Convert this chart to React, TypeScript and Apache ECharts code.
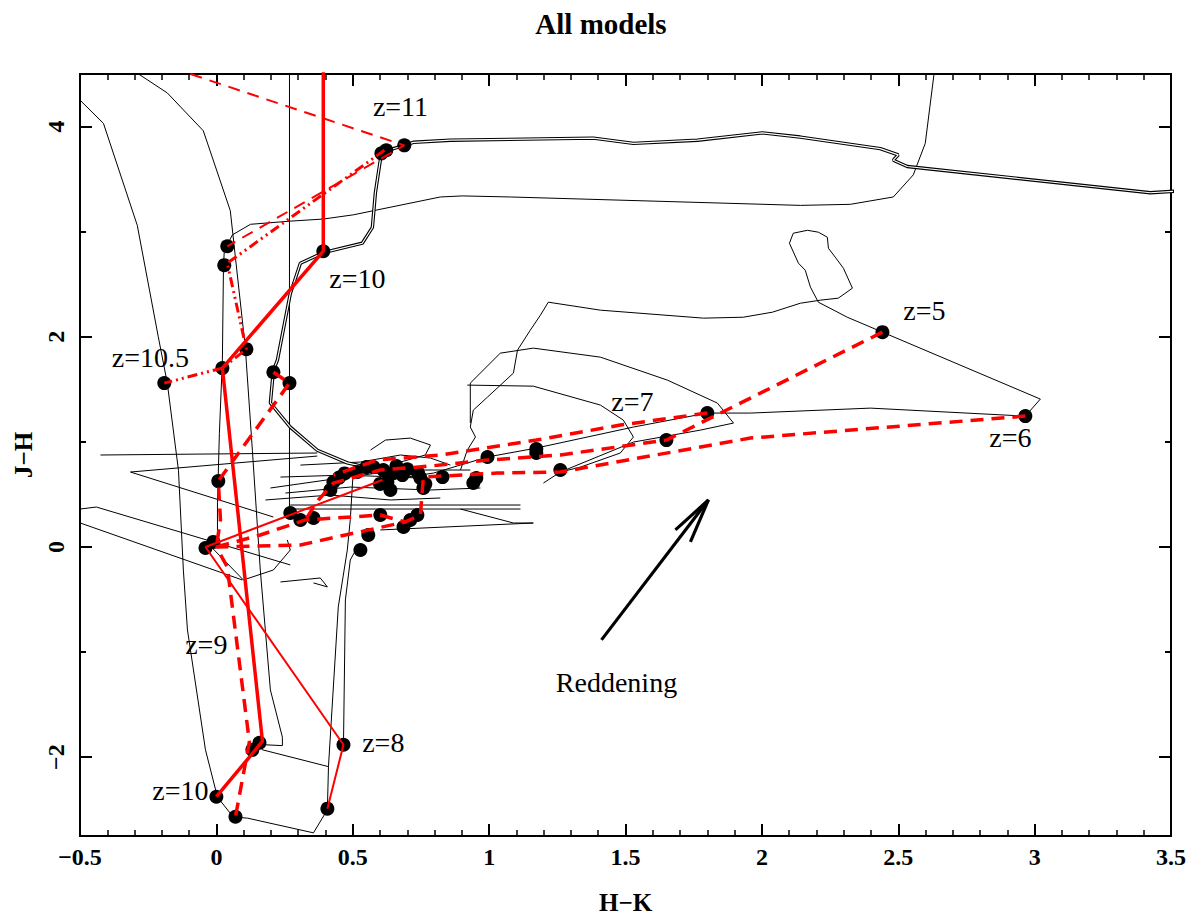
import React, { useEffect, useRef } from "react";
import * as echarts from "echarts";

// ---------- axis ----------
const xMin = -0.5, xMax = 3.5, xStep = 0.5;
const yMin = -2.75, yMax = 4.5;
const yMajor = [-2, 0, 2, 4];
const yMinor = [-1, 1, 3];

// ---------- black evolutionary tracks (H-K, J-H) ----------
const trackLeftOuter = [[-0.499,4.249],[-0.414,4.03],[-0.290,3.06],[-0.213,2.00],[-0.180,1.56],[-0.139,0.73],[-0.121,-0.22],[-0.106,-0.79],[-0.040,-1.93],[0.004,-2.38],[0.062,-2.57],[0.114,-2.58],[0.356,-2.72],[0.407,-2.50],[0.411,-2.09],[0.447,-0.57],[0.480,-0.03],[0.491,0.26],[0.502,0.73]];
const trackLeftInner = [[-0.297,4.52],[-0.180,4.32],[-0.048,3.96],[0.051,3.20],[0.106,1.90],[0.132,0.92],[0.161,-0.22],[0.198,-1.36],[0.242,-1.81],[0.242,-1.89],[0.161,-1.88],[0.169,-1.93],[0.411,-2.09]];
const trackVertical = [[0.268,4.6],[0.268,0.30]];
const trackUpperDouble = [[3.55,3.39],[3.424,3.37],[2.533,3.62],[2.482,3.68],[2.500,3.73],[2.434,3.79],[2.141,3.90],[2.002,3.94],[1.764,3.87],[1.529,3.84],[1.382,3.89],[0.858,3.87],[0.722,3.85],[0.689,3.82],[0.623,3.77],[0.601,3.68],[0.583,3.37],[0.572,3.04],[0.535,2.89],[0.392,2.80],[0.308,2.70],[0.271,2.41],[0.224,1.78],[0.209,1.68],[0.198,1.37],[0.271,1.14],[0.370,0.92],[0.480,0.80],[0.601,0.73]];
const trackUpperSingle = [[2.636,4.6],[2.599,3.84],[2.555,3.54],[2.482,3.33],[2.324,3.26],[2.141,3.25],[1.078,3.33],[0.902,3.34],[0.821,3.33],[0.502,3.16],[0.392,3.12],[0.271,3.10],[0.125,3.07],[0.059,2.97],[0.029,2.82],[0.026,2.66],[0.022,1.78],[0.011,1.08],[0.004,0.42],[0.004,0.10]];
const trackZ5 = [[1.217,2.329],[1.408,2.253],[1.786,2.177],[1.932,2.186],[2.039,2.234],[2.141,2.319],[2.214,2.348],[2.280,2.367],[2.332,2.462],[2.299,2.652],[2.269,2.757],[2.244,2.842],[2.240,2.947],[2.207,2.995],[2.167,3.013],[2.115,2.985],[2.101,2.890],[2.134,2.700],[2.159,2.633],[2.178,2.472],[2.207,2.329],[2.313,2.186],[2.442,2.044],[3.021,1.407],[2.966,1.245],[2.398,1.321],[1.958,1.274],[1.800,1.274],[1.529,1.141],[1.173,0.941],[0.994,0.856],[0.796,0.703],[0.675,0.656]];
const trackWiggle = [[1.217,2.329],[1.188,2.205],[1.151,2.063],[1.104,1.873],[1.089,1.654],[0.994,1.426],[0.942,1.302],[0.931,1.141],[0.950,1.046],[0.920,0.922],[0.895,0.732]];
const loopOuter = [[0.931,1.179],[0.931,1.559],[1.041,1.844],[1.162,1.892],[1.408,1.806],[1.654,1.587],[1.837,1.369],[1.896,1.179],[1.775,1.112],[1.529,0.998],[1.261,0.713],[1.199,0.608]];
const loopInner = [[0.920,1.540],[1.162,1.530],[1.408,1.350],[1.492,1.207],[1.529,1.046],[1.481,0.894],[1.335,0.760],[1.261,0.713]];
const clusterLines = [
  [[-0.425,0.875],[0.370,0.894]],
  [[-0.315,0.713],[0.370,0.865]],
  [[-0.315,0.713],[0.209,0.285]],
  [[-0.499,0.361],[-0.440,0.380],[0.271,-0.171]],
  [[-0.499,0.228],[0.095,-0.314]],
  [[-0.033,0.038],[0.099,-0.314],[0.209,-0.219],[0.271,-0.029],[0.260,0.067]],
  [[0.235,-0.333],[0.381,-0.295],[0.407,-0.380],[0.356,-0.342]],
  [[0.198,0.561],[0.455,0.656],[0.675,0.732],[0.931,0.732]],
  [[0.235,0.665],[0.473,0.684],[0.748,0.656]],
  [[0.253,0.513],[0.491,0.570],[0.785,0.542],[0.968,0.561]],
  [[0.308,0.779],[0.528,0.808],[0.675,0.875],[0.785,0.846],[0.858,0.779]],
  [[0.180,0.447],[0.418,0.494],[0.638,0.447],[0.821,0.466]],
  [[0.565,0.922],[0.620,1.017],[0.711,1.036],[0.785,0.970],[0.766,0.875],[0.675,0.808]],
  [[0.271,0.399],[1.115,0.399]],
  [[0.271,0.361],[1.115,0.361]],
  [[0.895,0.361],[1.089,0.228],[1.162,0.228]],
  [[0.601,0.162],[1.162,0.228]],
  [[0.466,-1.882],[0.473,-0.504],[0.491,-0.124],[0.521,0.019]],
];

// ---------- red model sequences ----------
const modelSolidThick = [[0.392,4.7],[0.392,2.814],[0.022,1.702],[0.169,-1.85],[0.0,-2.376]];
const modelSolidThin = [[0.609,0.637],[-0.040,0.0],[0.466,-1.882],[0.407,-2.490]];
const modelDashedZ6 = [[2.966,1.245],[1.958,1.036],[1.261,0.713],[1.030,0.703],[0.759,0.665],[0.748,0.304],[0.693,0.238],[0.473,0.114],[0.308,0.019],[0.0,0.0],[0.040,-0.190],[0.121,-1.854],[0.070,-2.567]];
const modelDashedZ5 = [[2.442,2.044],[1.650,1.017],[1.261,0.875],[0.994,0.827],[0.785,0.770],[0.601,0.732],[0.429,0.608],[0.374,0.447],[0.326,0.257]];
const modelDashedZ7 = [[1.800,1.274],[1.481,1.160],[1.173,1.017],[0.821,0.875],[0.590,0.827],[0.429,0.684]];
const modelDashedLoop = [[0.0,0.0],[0.161,0.114],[0.326,0.257],[0.601,0.304],[0.693,0.238]];
const modelDashedUp = [[0.209,1.663],[0.268,1.559],[0.007,0.627],[0.015,0.257],[0.0,0.0]];
const modelDashDot = [[0.616,3.774],[0.040,2.700],[0.110,1.882],[0.022,1.702],[-0.191,1.559]];
const modelDashedThin = [[-0.095,4.5],[0.689,3.821],[0.040,2.861]];

// ---------- black dots ----------
const dots = [[0.689,3.821],[0.623,3.774],[0.605,3.745],[0.040,2.861],[0.029,2.681],[0.392,2.814],[0.110,1.882],[-0.191,1.559],[0.022,1.702],[0.209,1.663],[0.268,1.559],[0.007,0.627],[2.442,2.044],[2.966,1.245],[1.800,1.274],[1.650,1.017],[1.261,0.732],[1.173,0.932],[1.173,0.894],[0.994,0.856],[0.942,0.608],[0.953,0.656],[0.829,0.665],[0.748,0.656],[0.766,0.599],[0.759,0.561],[0.517,0.713],[0.576,0.760],[0.612,0.732],[0.649,0.703],[0.682,0.684],[0.627,0.618],[0.638,0.542],[0.429,0.618],[0.418,0.542],[0.45,0.66],[0.47,0.70],[0.55,0.76],[0.66,0.77],[0.70,0.74],[0.60,0.60],[0.74,0.70],[0.601,0.304],[0.711,0.257],[0.737,0.304],[0.686,0.190],[0.557,0.114],[0.528,-0.029],[0.271,0.323],[0.308,0.257],[0.356,0.276],[-0.040,-0.010],[-0.011,0.048],[0.132,-1.930],[0.158,-1.863],[0.466,-1.882],[0.407,-2.490],[0.0,-2.376],[0.070,-2.567]];

// ---------- reddening arrow ----------
const arrowShaft = [[1.412,-0.884],[1.804,0.447]];
const arrowHead = [[1.683,0.162],[1.804,0.447],[1.738,0.048]];

// ---------- annotations ----------
const noteText = ["z=11","z=10","z=10.5","z=5","z=6","z=7","z=9","z=8","z=10","Reddening"];
const noteX = [0.675,0.517,-0.242,2.596,2.911,1.525,-0.037,0.612,-0.132,1.467];
const noteY = [4.19,2.55,1.80,2.25,1.04,1.38,-0.93,-1.86,-2.32,-1.29];

const AXFONT = "Liberation Serif";
const TXFONT = "Liberation Serif";
const RED = "#ff0000";

const minus = (v: number) => String(v).replace("-", "\u2212");

function track(data: number[][], width = 1, color = "#000", z = 2) {
  return { type: "line", data, symbol: "none", silent: true, z, lineStyle: { color, width, opacity: 1 }, clip: true };
}
function red(data: number[][], width: number, type: any) {
  return { type: "line", data, symbol: "none", silent: true, z: 6, lineStyle: { color: RED, width, type, cap: "butt", opacity: 1 }, clip: true };
}

function xAxis(pos: string, labels: boolean) {
  return {
    type: "value", min: xMin, max: xMax, interval: xStep, position: pos,
    axisLine: { show: true, onZero: false, lineStyle: { color: "#000", width: 2 } },
    axisTick: { show: true, inside: true, length: 12, lineStyle: { color: "#000", width: 2 } },
    minorTick: { show: true, splitNumber: 5, length: 6, lineStyle: { color: "#000", width: 1.5 } },
    axisLabel: { show: labels, margin: 9, color: "#000", fontFamily: AXFONT, fontWeight: "bold", fontSize: 24, formatter: minus },
    splitLine: { show: false }, minorSplitLine: { show: false },
    name: labels ? "H\u2212K" : "", nameLocation: "middle", nameGap: 54,
    nameTextStyle: { color: "#000", fontFamily: AXFONT, fontWeight: "bold", fontSize: 25 },
  };
}
function yAxis(pos: string, values: number[], len: number, labels: boolean) {
  return {
    type: "value", min: yMin, max: yMax, position: pos,
    axisLine: { show: true, onZero: false, lineStyle: { color: "#000", width: 2 } },
    axisTick: { show: true, inside: true, length: len, customValues: values, lineStyle: { color: "#000", width: 2 } },
    axisLabel: { show: labels, customValues: values, rotate: 90, margin: 12, color: "#000", fontFamily: AXFONT, fontWeight: "bold", fontSize: 24, formatter: minus },
    splitLine: { show: false },
    name: labels ? "J\u2212H" : "", nameLocation: "middle", nameGap: 40, nameRotate: 90,
    nameTextStyle: { color: "#000", fontFamily: AXFONT, fontWeight: "bold", fontSize: 25 },
  };
}

export default function App() {
  const ref = useRef<HTMLDivElement>(null);
  useEffect(() => {
    if (!ref.current) return;
    const chart = echarts.init(ref.current, null, { renderer: "svg" });
    const series: any[] = [];
    series.push(track(trackLeftOuter));
    series.push(track(trackLeftInner));
    series.push(track(trackVertical));
    series.push(track(trackUpperSingle));
    series.push(track(trackZ5));
    series.push(track(trackWiggle));
    series.push(track(loopOuter));
    series.push(track(loopInner));
    clusterLines.forEach((d) => series.push(track(d)));
    series.push(track(trackUpperDouble, 3.4, "#000", 3));
    series.push(track(trackUpperDouble, 1.2, "#fff", 3.5));
    series.push({
      type: "scatter", data: dots, symbol: "circle", symbolSize: 14, silent: true, z: 5,
      itemStyle: { color: "#000", opacity: 1 },
    });
    series.push(red(modelSolidThick, 3.5, "solid"));
    series.push(red(modelSolidThin, 2, "solid"));
    series.push(red(modelDashedZ6, 3.5, [13, 8]));
    series.push(red(modelDashedZ5, 3.5, [13, 8]));
    series.push(red(modelDashedZ7, 3.5, [13, 8]));
    series.push(red(modelDashedLoop, 3.5, [13, 8]));
    series.push(red(modelDashedUp, 3.5, [13, 8]));
    series.push(red(modelDashDot, 3, [10, 4, 2, 4, 2, 4]));
    series.push(red(modelDashedThin, 2, [12, 8]));
    series.push(track(arrowShaft, 3.2, "#000", 7));
    series.push(track(arrowHead, 3.2, "#000", 7));
    series.push({
      type: "scatter", symbolSize: 0, silent: true, z: 8,
      itemStyle: { opacity: 1 },
      data: noteText.map((t, i) => ({ name: t, value: [noteX[i], noteY[i]] })),
      label: { show: true, position: "inside", formatter: (p: any) => p.name, color: "#000", opacity: 1, fontFamily: TXFONT, fontSize: 28 },
    });

    chart.setOption({
      animation: false,
      backgroundColor: "#fff",
      title: { text: "All models", left: "center", top: 4, textStyle: { color: "#000", fontFamily: AXFONT, fontWeight: "bold", fontSize: 29 } },
      grid: { left: 80, right: 31, top: 74, bottom: 86, outerBoundsMode: "none" },
      xAxis: [xAxis("bottom", true), xAxis("top", false)],
      yAxis: [
        yAxis("left", yMajor, 12, true),
        yAxis("left", yMinor, 6, false),
        yAxis("right", yMajor, 12, false),
        yAxis("right", yMinor, 6, false),
      ],
      series,
    });
    return () => chart.dispose();
  }, []);
  return <div ref={ref} style={{ width: 1202, height: 922, margin: -8 }} />;
}
